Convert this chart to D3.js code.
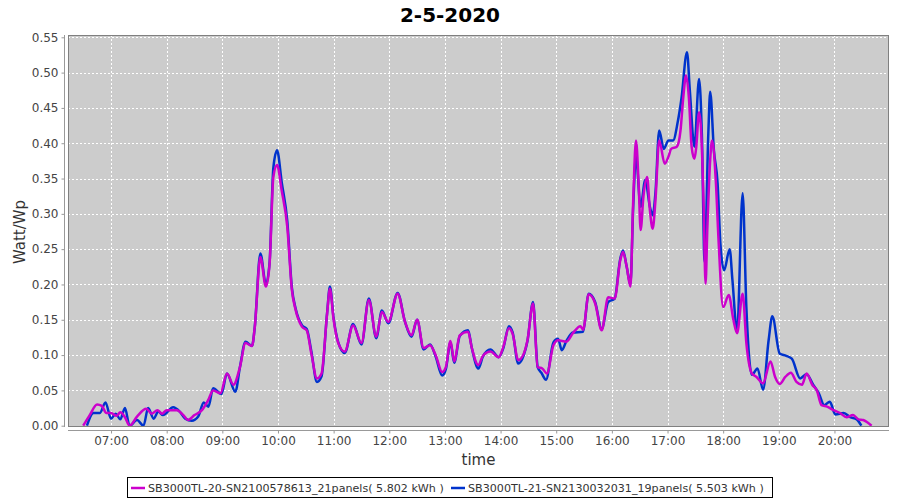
<!DOCTYPE html>
<html><head><meta charset="utf-8">
<script src="https://cdn.jsdelivr.net/npm/d3@7"></script>
<style>body{margin:0;background:#fff}svg{display:block}</style>
</head><body>
<svg id="c" width="900" height="500"></svg>
<script>
const title = "2-5-2020";
const yTicks = [0,0.05,0.10,0.15,0.20,0.25,0.30,0.35,0.40,0.45,0.50,0.55];
const xTickLabels = ["07:00","08:00","09:00","10:00","11:00","12:00","13:00","14:00","15:00","16:00","17:00","18:00","19:00","20:00"];
const seriesNames = ["SB3000TL-20-SN2100578613_21panels( 5.802 kWh )","SB3000TL-21-SN2130032031_19panels( 5.503 kWh )"];
const seriesColors = ["#cc00cc","#0033cc"];

const timesA = ["06:30","06:37","06:45","06:50","06:55","07:00","07:06","07:10","07:15","07:20","07:28","07:38","07:44","07:50","07:55","08:00","08:11","08:18","08:23","08:30","08:38","08:45","08:50","08:58","09:05","09:12","09:19","09:25","09:32","09:35","09:41","09:47","09:51","09:55","09:59","10:04","10:10","10:15","10:19","10:26","10:31","10:36","10:42","10:47","10:53","10:56","11:00","11:05","11:12","11:21","11:30","11:38","11:46","11:52","11:59","12:09","12:17","12:24","12:30","12:37","12:44","12:50","12:57","13:01","13:06","13:10","13:16","13:25","13:29","13:36","13:41","13:49","13:58","14:03","14:09","14:13","14:19","14:25","14:29","14:35","14:40","14:45","14:50","14:57","15:02","15:11","15:18","15:26","15:29","15:35","15:42","15:49","15:56","16:03","16:09","16:12","16:16","16:20","16:23","16:26","16:29","16:31","16:34","16:38","16:41","16:44","16:47","16:51","16:57","17:01","17:04","17:10","17:14","17:17","17:20","17:23","17:26","17:29","17:31","17:34","17:36","17:39","17:41","17:43","17:46","17:48","17:52","17:55","18:00","18:06","18:11","18:15","18:21","18:25","18:31","18:36","18:43","18:51","18:56","19:01","19:07","19:13","19:19","19:25","19:30","19:36","19:41","19:46","19:52","19:59","20:06","20:13","20:20","20:26","20:31","20:40"];
const valuesA = [0,0.015,0.030,0.028,0.018,0.018,0.014,0.019,0.012,0.000,0.013,0.024,0.017,0.022,0.017,0.022,0.022,0.015,0.008,0.015,0.022,0.037,0.050,0.046,0.074,0.058,0.083,0.117,0.113,0.140,0.239,0.197,0.230,0.352,0.369,0.333,0.282,0.192,0.164,0.140,0.135,0.102,0.067,0.074,0.159,0.194,0.150,0.117,0.105,0.142,0.117,0.178,0.126,0.161,0.147,0.187,0.147,0.128,0.150,0.110,0.114,0.100,0.076,0.083,0.120,0.091,0.128,0.133,0.110,0.086,0.099,0.105,0.097,0.112,0.138,0.130,0.093,0.102,0.121,0.173,0.083,0.081,0.074,0.114,0.121,0.119,0.131,0.141,0.136,0.186,0.173,0.135,0.182,0.180,0.234,0.246,0.225,0.197,0.319,0.404,0.338,0.277,0.324,0.352,0.305,0.279,0.319,0.404,0.371,0.381,0.392,0.395,0.418,0.465,0.496,0.465,0.395,0.378,0.395,0.444,0.423,0.310,0.201,0.282,0.376,0.404,0.348,0.263,0.168,0.185,0.150,0.131,0.187,0.117,0.074,0.069,0.060,0.091,0.069,0.059,0.069,0.075,0.062,0.058,0.074,0.058,0.050,0.029,0.027,0.022,0.018,0.012,0.015,0.009,0.008,0.000];

const timesB = ["06:34","06:41","06:48","06:54","07:00","07:05","07:10","07:15","07:20","07:28","07:35","07:40","07:46","07:51","07:56","08:07","08:14","08:20","08:27","08:34","08:40","08:45","08:50","08:59","09:05","09:14","09:19","09:25","09:32","09:35","09:41","09:47","09:51","09:55","09:59","10:04","10:10","10:15","10:19","10:26","10:31","10:36","10:42","10:47","10:53","10:56","11:00","11:05","11:12","11:21","11:30","11:38","11:46","11:52","11:59","12:09","12:17","12:24","12:30","12:37","12:44","12:50","12:57","13:01","13:06","13:10","13:16","13:25","13:29","13:36","13:41","13:49","13:58","14:03","14:09","14:13","14:19","14:25","14:29","14:35","14:40","14:44","14:49","14:57","15:02","15:06","15:11","15:18","15:29","15:35","15:42","15:49","15:56","16:03","16:09","16:12","16:16","16:20","16:23","16:26","16:31","16:36","16:41","16:44","16:47","16:51","16:56","17:01","17:06","17:11","17:15","17:21","17:24","17:29","17:34","17:37","17:40","17:44","17:46","17:50","17:54","17:57","18:01","18:07","18:10","18:15","18:21","18:25","18:31","18:37","18:43","18:49","18:53","19:01","19:08","19:14","19:23","19:30","19:37","19:43","19:49","19:55","20:01","20:10","20:17","20:24","20:29"];
const valuesB = [0,0.018,0.018,0.033,0.010,0.017,0.009,0.025,0.000,0.008,0.000,0.025,0.010,0.020,0.015,0.026,0.020,0.010,0.007,0.013,0.033,0.027,0.053,0.045,0.074,0.048,0.083,0.119,0.113,0.140,0.244,0.200,0.232,0.365,0.390,0.345,0.290,0.195,0.166,0.142,0.137,0.105,0.062,0.070,0.160,0.197,0.152,0.118,0.103,0.144,0.115,0.180,0.124,0.163,0.145,0.188,0.147,0.126,0.150,0.108,0.115,0.098,0.071,0.080,0.118,0.089,0.127,0.135,0.110,0.081,0.098,0.108,0.097,0.110,0.141,0.132,0.088,0.100,0.120,0.175,0.083,0.075,0.065,0.118,0.123,0.107,0.120,0.132,0.133,0.187,0.175,0.137,0.175,0.180,0.236,0.248,0.225,0.200,0.310,0.381,0.310,0.348,0.310,0.298,0.330,0.418,0.392,0.404,0.404,0.430,0.463,0.529,0.476,0.395,0.491,0.414,0.232,0.414,0.473,0.390,0.343,0.258,0.220,0.250,0.206,0.133,0.329,0.168,0.072,0.081,0.051,0.121,0.155,0.102,0.099,0.095,0.067,0.073,0.058,0.046,0.029,0.034,0.016,0.018,0.012,0.009,0.000];

const toMin = s => { const [h,m] = s.split(":").map(Number); return h*60+m; };
const seriesA = timesA.map((t,i)=>({t:toMin(t), v:valuesA[i]}));
const seriesB = timesB.map((t,i)=>({t:toMin(t), v:valuesB[i]}));

const svg = d3.select("#c");
const L = 68, R = 889, T = 35, B = 427;
const x = d3.scaleLinear().domain([373.6, 1258.8]).range([L, R]);
const y = d3.scaleLinear().domain([0, 0.55]).range([425.7, 37.3]);

svg.append("text").attr("x",450).attr("y",22).attr("text-anchor","middle")
  .attr("font-family","DejaVu Sans, sans-serif").attr("font-weight","bold").attr("font-size",20)
  .attr("fill","#000").text(title);

svg.append("rect").attr("x",L).attr("y",T).attr("width",R-L).attr("height",B-T)
  .attr("fill","#cccccc");

const g = svg.append("g");
g.selectAll("line.gy").data(yTicks.slice(1)).join("line").attr("class","gy")
  .attr("x1",L).attr("x2",R).attr("y1",d=>Math.round(y(d))+0.5).attr("y2",d=>Math.round(y(d))+0.5)
  .attr("stroke","#ffffff").attr("stroke-width",1).attr("stroke-dasharray","2,2");
const xTickVals = xTickLabels.map(toMin);
g.selectAll("line.gx").data(xTickVals).join("line").attr("class","gx")
  .attr("y1",T).attr("y2",B).attr("x1",d=>Math.round(x(d))+0.5).attr("x2",d=>Math.round(x(d))+0.5)
  .attr("stroke","#ffffff").attr("stroke-width",1).attr("stroke-dasharray","2,2");

svg.append("clipPath").attr("id","pc").append("rect")
  .attr("x",L).attr("y",T).attr("width",R-L).attr("height",B-T);

const line = d3.line().x(d=>x(d.t)).y(d=>y(d.v)).curve(d3.curveMonotoneX);
const lines = svg.append("g").attr("clip-path","url(#pc)");
lines.append("path").datum(seriesB).attr("d",line).attr("fill","none")
  .attr("stroke",seriesColors[1]).attr("stroke-width",2.5).attr("stroke-linejoin","round");
lines.append("path").datum(seriesA).attr("d",line).attr("fill","none")
  .attr("stroke",seriesColors[0]).attr("stroke-width",2.5).attr("stroke-linejoin","round");

svg.append("rect").attr("x",L+0.5).attr("y",T+0.5).attr("width",R-L-1).attr("height",B-T-1)
  .attr("fill","none").attr("stroke","#808080").attr("stroke-width",1);

// Y axis
const yAxis = d3.axisLeft(y).tickValues(yTicks).tickFormat(d3.format(".2f")).tickSize(3).tickSizeOuter(0);
const ya = svg.append("g").attr("transform","translate(64.5,0)").call(yAxis);
ya.select(".domain").attr("d",`M0,${T}V${B}`).attr("stroke","#999");
ya.selectAll(".tick line").attr("stroke","#999");
ya.selectAll("text").attr("font-family","DejaVu Sans, sans-serif").attr("font-size",12).attr("fill","#444").attr("x",-6);

// X axis
const xAxis = d3.axisBottom(x).tickValues(xTickVals).tickFormat((d,i)=>xTickLabels[i]).tickSize(3).tickSizeOuter(0);
const xa = svg.append("g").attr("transform","translate(0,430.5)").call(xAxis);
xa.select(".domain").attr("d",`M${L},0H${R}`).attr("stroke","#999");
xa.selectAll(".tick line").attr("stroke","#999");
xa.selectAll("text").attr("font-family","DejaVu Sans, sans-serif").attr("font-size",12).attr("fill","#444").attr("y",6);

svg.append("text").attr("x",(L+R)/2).attr("y",465).attr("text-anchor","middle")
  .attr("font-family","DejaVu Sans, sans-serif").attr("font-size",15).attr("fill","#333").text("time");
svg.append("text").attr("transform","translate(25,232) rotate(-90)").attr("text-anchor","middle")
  .attr("font-family","DejaVu Sans, sans-serif").attr("font-size",15).attr("fill","#333").text("Watt/Wp");

// Legend
const lg = svg.append("g");
lg.append("rect").attr("x",127.5).attr("y",477.5).attr("width",645).attr("height",20)
  .attr("fill","#fff").attr("stroke","#000").attr("stroke-width",1);
const legX = [131, 451];
const legW = 296;
seriesNames.forEach((n,i)=>{
  lg.append("line").attr("x1",legX[i]).attr("x2",legX[i]+14).attr("y1",488).attr("y2",488)
    .attr("stroke",seriesColors[i]).attr("stroke-width",2.5);
  const t = lg.append("text").attr("x",legX[i]+17).attr("y",492).attr("font-family","DejaVu Sans, sans-serif")
    .attr("font-size",11).attr("fill","#333").text(n);
  const w = t.node().getComputedTextLength();
  t.attr("font-size", 11*legW/w);
});
</script>
</body></html>
